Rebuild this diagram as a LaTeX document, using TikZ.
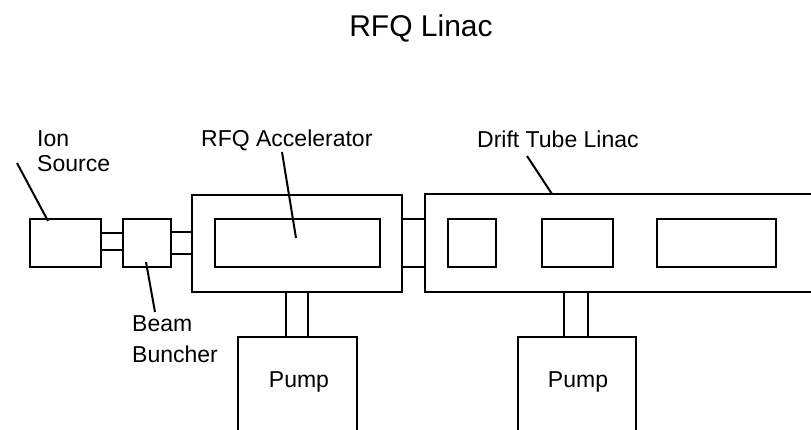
\documentclass[tikz,border=0pt]{standalone}
\usepackage{fontspec}
\setmainfont{Liberation Sans}
\begin{document}
\begin{tikzpicture}[x=1pt,y=-1pt,
  bx/.style={draw, line width=2pt, inner sep=0pt, minimum width=#1},
  bx/.default=10,
  pipe/.style={line width=2pt},
  lead/.style={line width=2pt},
  lbl/.style={inner sep=0pt, font=\fontsize{23}{26}\selectfont, anchor=base west},
  ttl/.style={inner sep=0pt, font=\fontsize{30}{34}\selectfont}]
\useasboundingbox (0,0) rectangle (811,430);
\clip (0,0) rectangle (811,430);
% title
\node[ttl] (title) at (421,28) {RFQ Linac};
% boxes
\node[bx=71, minimum height=48] (ion) at (65.5,243) {};
\node[bx=48, minimum height=48] (buncher) at (147,243) {};
\node[bx=210, minimum height=97] (rfq) at (297,243.5) {};
\node[bx=165, minimum height=48] (rfqin) at (297.5,243) {};
\node[bx=23, minimum height=48] (coupler) at (413.5,243) {};
\node[bx=405, minimum height=98] (dtl) at (627.5,243) {};
\node[bx=48, minimum height=48] (d1) at (472,243) {};
\node[bx=71, minimum height=48] (d2) at (577.5,243) {};
\node[bx=119, minimum height=48] (d3) at (716.5,243) {};
\node[bx=119, minimum height=110] (pump1) at (297.5,392) {};
\node[bx=118, minimum height=110] (pump2) at (577,392) {};
\node[lbl, anchor=base] (p1t) at (299,387) {Pump};
\node[lbl, anchor=base] (p2t) at (578,387) {Pump};
% pipes
\coordinate (ya) at (0,233);
\coordinate (yb) at (0,250);
\coordinate (yc) at (0,232);
\coordinate (yd) at (0,254);
\coordinate (xa) at (286,0);
\coordinate (xb) at (308,0);
\coordinate (xc) at (564,0);
\coordinate (xd) at (588,0);
\draw[pipe] (ion.east |- ya) -- (buncher.west |- ya);
\draw[pipe] (ion.east |- yb) -- (buncher.west |- yb);
\draw[pipe] (buncher.east |- yc) -- (rfq.west |- yc);
\draw[pipe] (buncher.east |- yd) -- (rfq.west |- yd);
\draw[pipe] (xa |- rfq.south) -- (xa |- pump1.north);
\draw[pipe] (xb |- rfq.south) -- (xb |- pump1.north);
\draw[pipe] (xc |- dtl.south) -- (xc |- pump2.north);
\draw[pipe] (xd |- dtl.south) -- (xd |- pump2.north);
% labels
\node[lbl] (ionl1) at (37,147) {Ion};
\node[lbl] (ionl2) at (37,172) {Source};
\node[lbl] (rfql) at (201,147) {RFQ Accelerator};
\node[lbl] (dtll) at (477,148) {Drift Tube Linac};
\node[lbl] (bul1) at (132,331) {Beam};
\node[lbl] (bul2) at (132,362) {Buncher};
% leaders
\coordinate (ionA) at (17,163);
\coordinate (ionB) at (48,221);
\coordinate (buA) at (146,262);
\coordinate (buB) at (155,312);
\coordinate (rfqA) at (282,152);
\coordinate (rfqB) at (296,238);
\coordinate (dtlA) at (527,156);
\coordinate (dtlB) at (552,194);
\draw[lead] (ionA) -- (ionB);
\draw[lead] (buA) -- (buB);
\draw[lead] (rfqA) -- (rfqB);
\draw[lead] (dtlA) -- (dtlB);
\end{tikzpicture}
\end{document}
